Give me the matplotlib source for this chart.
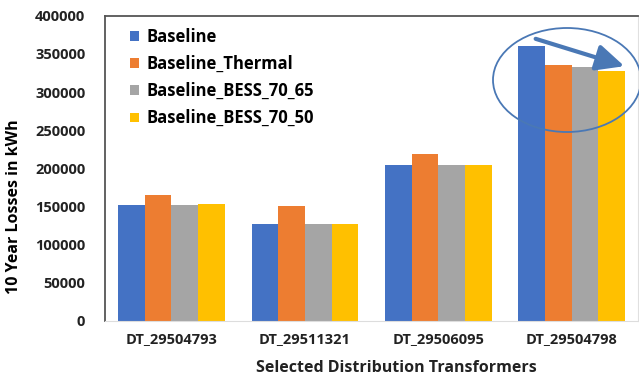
import matplotlib.pyplot as plt
import numpy as np
from matplotlib.patches import Ellipse, FancyArrowPatch

transformers = ["DT_29504793", "DT_29511321", "DT_29506095", "DT_29504798"]
series_names = ["Baseline", "Baseline_Thermal", "Baseline_BESS_70_65", "Baseline_BESS_70_50"]
baseline = [152000, 127000, 205000, 360000]
baseline_thermal = [165000, 150000, 219000, 335000]
bess_70_65 = [152000, 127000, 205000, 333000]
bess_70_50 = [153000, 127000, 205000, 327000]
colors = ["#4472C4", "#ED7D31", "#A5A5A5", "#FFC000"]

plt.rcParams["font.family"] = ["Open Sans", "DejaVu Sans"]

fig = plt.figure(figsize=(6.39, 3.77), dpi=100)
ax = fig.add_axes([0.164, 0.149, 0.835, 0.809])

x = np.arange(len(transformers))
width = 0.2
all_series = [baseline, baseline_thermal, bess_70_65, bess_70_50]
for i, (vals, name, col) in enumerate(zip(all_series, series_names, colors)):
    ax.bar(x + (i - 1.5) * width, vals, width, color=col, label=name, zorder=2)

ax.set_xlim(-0.5, 3.5)
ax.set_ylim(0, 400000)
ax.set_yticks(range(0, 400001, 50000))
ax.set_xticks(x)
ax.set_xticklabels(transformers)
ax.tick_params(axis="both", length=0, labelsize=10.5, colors="#222222")
ax.tick_params(axis="y", pad=14)
ax.tick_params(axis="x", pad=8)
for lbl in ax.get_xticklabels() + ax.get_yticklabels():
    lbl.set_fontweight("bold")

ax.set_ylabel("10 Year Losses in kWh", fontsize=11.5, fontweight="bold")
ax.yaxis.set_label_coords(-0.155, 0.375)
ax.set_xlabel("Selected Distribution Transformers", fontsize=11.5, fontweight="bold",
              color="#222222")
ax.xaxis.set_label_coords(0.546, -0.13)

ax.spines["left"].set_color("#555555")
ax.spines["left"].set_linewidth(1.3)
ax.spines["top"].set_color("#555555")
ax.spines["top"].set_linewidth(1.3)
ax.spines["bottom"].set_color("#dddddd")
ax.spines["right"].set_color("#e0e0e0")

leg = ax.legend(loc="upper left", bbox_to_anchor=(0.02, 1.01), frameon=False,
                handlelength=0.5, handleheight=0.5, handletextpad=0.45,
                labelspacing=0.55, prop={"weight": "bold", "size": 12})

# highlight on the last transformer
trans = fig.transFigure
ell = Ellipse((567 / 639, 1 - 80 / 377), 148 / 639, 104 / 377, transform=trans,
              fill=False, edgecolor="#4A78B5", linewidth=1.3, clip_on=False)
fig.patches.append(ell)
arr = FancyArrowPatch((533 / 639, 1 - 38 / 377), (627 / 639, 1 - 67 / 377),
                      transform=trans, arrowstyle="-|>,head_length=17,head_width=8",
                      mutation_scale=1, color="#4A78B5", linewidth=3)
fig.patches.append(arr)

fig.savefig("out.png", dpi=100)
